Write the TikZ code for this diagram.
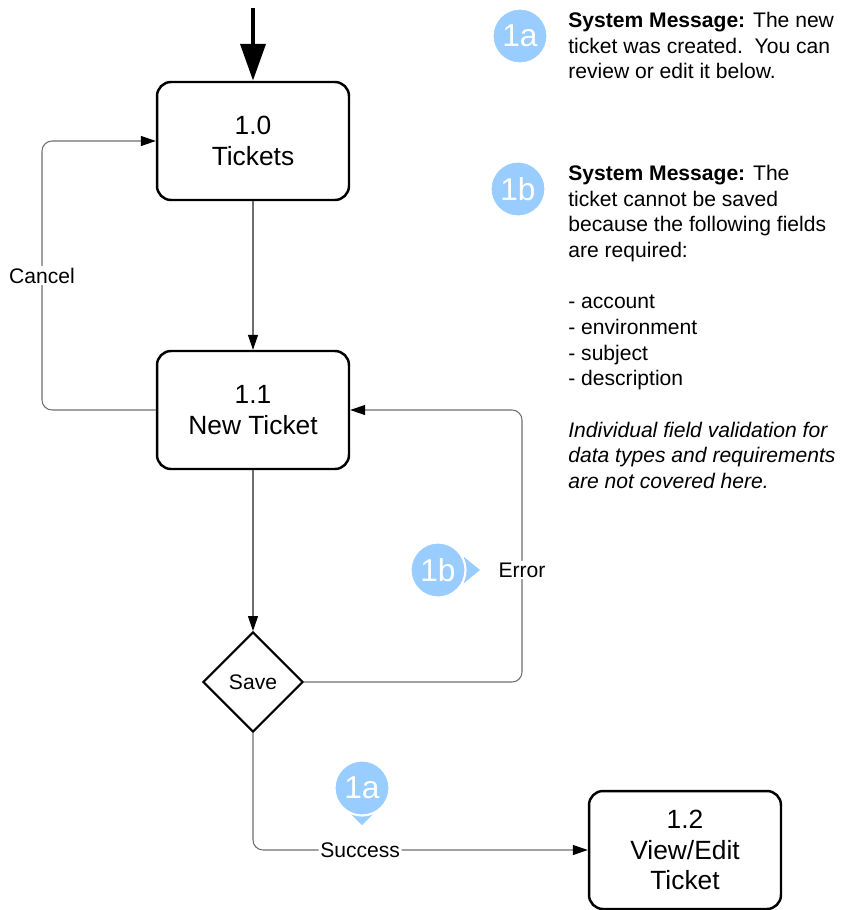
\documentclass[tikz,border=0pt]{standalone}
\usepackage{fontspec}
\setmainfont{Liberation Sans}
\usetikzlibrary{shapes.geometric,arrows.meta}
\definecolor{badgeblue}{RGB}{153,204,255}
\definecolor{linegray}{RGB}{110,110,110}

\begin{document}
\begin{tikzpicture}[
    x = 0.02cm, y = -0.02cm,
    ticketbox/.style = {draw, line width = 1.4pt, rounded corners = 8pt,
        minimum width = 3.84cm, minimum height = 2.36cm, align = center,
        font = \fontsize{15}{17.5}\selectfont},
    decision/.style = {diamond, draw, line width = 1.2pt, aspect = 1,
        minimum width = 2cm, minimum height = 2cm, inner sep = 0pt,
        font = \fontsize{12}{14}\selectfont},
    conn/.style = {draw = linegray, line width = 0.6pt, rounded corners = 5.7pt,
        -{Triangle[length = 8.5pt, width = 5.7pt, color = black]}},
    lbl/.style = {fill = white, inner sep = 1pt, text = black,
        font = \fontsize{12}{14}\selectfont},
    badge/.style = {circle, fill = badgeblue, draw = white, line width = 1.2pt,
        minimum size = 1.1cm, inner sep = 0pt, text = white,
        font = \fontsize{18}{18}\selectfont},
    note/.style = {anchor = north west, inner sep = 0pt, align = left,
        font = \fontsize{12}{14.6}\selectfont}]

\useasboundingbox (0,0) rectangle (844,910);

% boxes
\node[ticketbox] (t10) at (253,141) {1.0\\Tickets};
\node[ticketbox] (t11) at (253,410) {1.1\\New Ticket};
\node[decision]  (save) at (253,682) {Save};
\node[ticketbox] (t12) at (685,850) {1.2\\View/Edit\\Ticket};

% entry
\coordinate (start) at (253,8);
\draw[line width = 2.8pt, -{Triangle[length = 21pt, width = 14pt]}] (start) -- (t10.north);

% connectors
\coordinate (cl) at (42,410);
\coordinate (er) at (522,682);
\draw[conn] (t10.south) -- (t11.north);
\draw[conn] (t11.west) -- (cl) |- node[lbl, pos = 0.25] {Cancel} (t10.west);
\draw[conn] (t11.south) -- (save.north);
\draw[conn] (save.east) -- (er) |- node[lbl, pos = 0.206] {Error} (t11.east);
\draw[conn] (save.south) |- node[lbl, pos = 0.66] {Success} (t12.west);

% badges on the flow
\coordinate (p1b) at (438,570);
\fill[badgeblue] ([shift = {(26,-13)}]p1b) -- ([shift = {(42,0)}]p1b)
    -- ([shift = {(26,13)}]p1b) -- cycle;
\node[badge] (b1b) at (p1b) {1b};
\coordinate (p1a) at (362,788);
\fill[badgeblue] ([shift = {(-13,24)}]p1a) -- ([shift = {(0,37)}]p1a)
    -- ([shift = {(13,24)}]p1a) -- cycle;
\node[badge] (b1a) at (p1a) {1a};

% messages
\node[badge] (m1a) at (520,36) {1a};
\node[note] (n1a) at (568,12) {\textbf{System Message:} The new\\
    ticket was created.\ \ You can\\review or edit it below.};
\node[badge] (m1b) at (518,189) {1b};
\node[note] (n1b) at (568,165) {\textbf{System Message:} The\\
    ticket cannot be saved\\because the following fields\\are required:\\[14.6pt]
    - account\\- environment\\- subject\\- description\\[14.6pt]
    \itshape Individual field validation for\\
    \itshape data types and requirements\\
    \itshape are not covered here.};
\end{tikzpicture}
\end{document}
